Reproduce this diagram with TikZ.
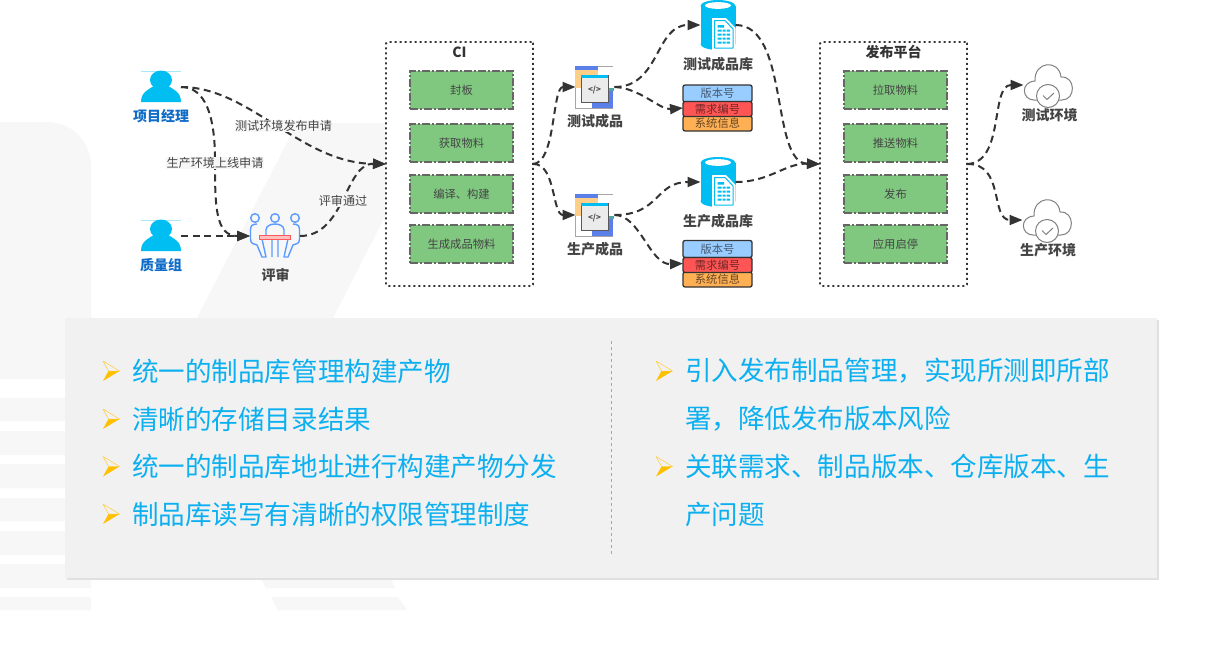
\documentclass[tikz,border=0pt]{standalone}
\usepackage{fontspec}
\setmainfont{Noto Sans CJK SC}
\usetikzlibrary{arrows.meta}
\definecolor{wash}{HTML}{F7F7F7}
\definecolor{panelgray}{HTML}{F1F1F1}
\definecolor{skyblue}{HTML}{00BEF2}
\definecolor{listblue}{HTML}{0CB0F0}
\definecolor{roleblue}{HTML}{0F6CC8}
\definecolor{inkdark}{HTML}{333333}
\definecolor{inktext}{HTML}{444444}
\definecolor{stepgreen}{HTML}{80C880}
\definecolor{seatblue}{HTML}{5B9BFF}
\definecolor{windowblue}{HTML}{5B7FE8}
\definecolor{paleorange}{HTML}{FFCF87}
\definecolor{bulletgold}{HTML}{FFC000}
\definecolor{rowblue}{HTML}{99CCFF}
\definecolor{rowred}{HTML}{FF5555}
\definecolor{roworange}{HTML}{FFB055}
\tikzset{
  iconbox/.style 2 args={minimum width=#1pt,minimum height=#2pt,inner sep=0pt,outer sep=0pt},
  groupbox/.style 2 args={iconbox={#1}{#2},draw=inkdark,fill=white,line width=1.9pt,dash pattern=on 2pt off 3pt,rounded corners=1.5pt},
  stepbox/.style={iconbox={103}{38},draw=black!60,fill=stepgreen,line width=1.1pt,dash pattern=on 8pt off 2pt on 2pt off 2pt,
    text=inktext,font=\fontsize{11.3}{12}\selectfont},
  grouptitle/.style={text=inkdark,inner sep=0pt,font=\fontsize{14}{15}\selectfont\bfseries},
  iconlabel/.style={text=inktext,inner sep=0pt,font=\fontsize{14}{15}\selectfont\bfseries},
  rolelabel/.style={text=roleblue,inner sep=0pt,font=\fontsize{14}{15}\selectfont\bfseries},
  edgelabel/.style={text=inktext,fill=black!3,inner sep=.5pt,font=\fontsize{12.1}{13}\selectfont},
  rowtext/.style={iconbox={69}{#1},draw=inkdark,line width=1.3pt,rounded corners=2pt,font=\fontsize{11.3}{12}\selectfont},
  listtext/.style={anchor=west,text=listblue,inner sep=0pt,font=\fontsize{26.55}{30}\selectfont},
  flow/.style={draw=inkdark,line width=2pt,dash pattern=on 7pt off 4.5pt},
  personicon/.pic={
    \draw[skyblue!35,line width=.6pt] (-20,-15.5)--(20,-15.5);
    \fill[skyblue] (0,-7) ellipse [x radius=11pt,y radius=9.5pt];
    \fill[skyblue] (-20,15) .. controls (-20,5) and (-12,2) .. (-7,-1) .. controls (-4,3) and (4,3) .. (7,-1) .. controls (12,2) and (20,5) .. (20,15) -- cycle;
  },
  seaticon/.pic={
    \draw[seatblue,line width=1.4pt] (-20,-18) circle (4.3pt) (0,-18) circle (4.3pt) (20,-18) circle (4.3pt);
    \draw[seatblue,line width=1.4pt,line join=round]
      (-18,-12) .. controls (-23,-12) and (-24.5,-10) .. (-24.5,-6) -- (-24.5,3) .. controls (-24.5,8) and (-21,8) .. (-18,9) -- (-13,21) -- (-9,21) -- (-13,3)
      (-9,-1) -- (-9,-6) .. controls (-9,-14) and (9,-14) .. (9,-6) -- (9,-1)
      (-3,3) -- (-3,21) (3,3) -- (3,21)
      (18,-12) .. controls (23,-12) and (24.5,-10) .. (24.5,-6) -- (24.5,3) .. controls (24.5,8) and (21,8) .. (18,9) -- (13,21) -- (9,21) -- (13,3);
    \draw[red!65,fill=red!25,line width=1pt] (-15.5,-.5) rectangle (15.5,3);
  },
  codeicon/.pic={
    \draw[black!35,line width=.6pt] (-20,-21) -- (18,-21) (-20,21) -- (18,21) (-20,-21) -- (-20,21);
    \fill[paleorange] (-20,-21) rectangle (3,1);
    \fill[windowblue] (-20,-21) rectangle (3,-17);
    \fill[windowblue] (-3,3) rectangle (18,21);
    \fill[teal!70] (13,1) rectangle (19,3.5);
    \draw[black!65,fill=black!8,line width=.9pt] (-14,-12) rectangle (13,15);
    \fill[skyblue] (-13.6,-11.6) rectangle (12.6,-9);
    \node[inner sep=0pt,text=black!70,font=\fontsize{8}{8}\selectfont\bfseries] (-code) at (-.5,3) {</>};
  },
  repoicon/.pic={
    \fill[skyblue] (-17.5,-19) rectangle (17.5,19);
    \fill[skyblue] (0,-19) ellipse [x radius=17.5pt,y radius=6pt];
    \fill[skyblue] (0,19) ellipse [x radius=17.5pt,y radius=6pt];
    \fill[white] (0,-19.5) ellipse [x radius=13pt,y radius=3.4pt];
    \fill[white] (-6,-7) -- (8,-7) -- (17.5,3) -- (17.5,25.5) -- (-6,25.5) -- cycle;
    \draw[skyblue,line width=1pt,line join=round] (-3.5,-4.5) -- (7,-4.5) -- (15,4) -- (15,23) -- (-3.5,23) -- cycle;
    \fill[skyblue] (-.5,0) rectangle (6,2.5) (-.5,4.5) rectangle (12,6.5) (-.5,8.5) rectangle (12,10.5) (-.5,12.5) rectangle (12,14.5) (-.5,16.5) rectangle (12,18.5);
    \fill[white] (3.6,4) rectangle (4.6,19) (7.6,4) rectangle (8.6,19);
  },
  cloudicon/.pic={
    \draw[black!50,fill=white,line width=1pt] (-14,15) .. controls (-26,15) and (-28,-3) .. (-13,-4) .. controls (-14,-24) and (11,-26) .. (13,-8) .. controls (28,-9) and (28,15) .. (14,15) -- cycle;
    \draw[black!50,fill=white,line width=1pt] (0,11) circle (11.5pt);
    \draw[black!50,line width=1pt] (-5,10.5) -- (-1,14.5) -- (6,8);
  },
  bulleticon/.pic={
    \fill[bulletgold] (-8.5,10) -- (8,0) -- (-3,0) -- cycle;
    \draw[bulletgold!80,line width=.5pt,line join=round] (-8.5,-10) -- (8,0) -- (-3,0) -- cycle;
  },
}
\begin{document}
\begin{tikzpicture}[x=1pt,y=-1pt,>={Triangle[length=13pt,width=10pt]}]
      \useasboundingbox (0,0) rectangle (1210,648);
      \fill[white] (0,0) rectangle (1210,648);
      % backdrop
      \fill[wash] (0,122) -- (46,122) .. controls (72,122) and (91,141) .. (91,167) -- (91,379) -- (0,379) -- cycle;
      \fill[wash] (0,398) rectangle (91,421) (0,431) rectangle (91,455) (0,464) rectangle (91,488);
      \fill[wash] (0,498) rectangle (91,521) (0,531) rectangle (91,555) (0,564) rectangle (91,588) (0,597) rectangle (91,610);
      \fill[wash] (297,123) -- (433,123) -- (333,318) -- (197,318) -- cycle;
      \fill[wash] (261,578) -- (390,578) -- (395,588) -- (266,588) -- cycle;
      \fill[wash] (271,597) -- (398,597) -- (407,610) -- (278,610) -- cycle;
      % lower panel
      \fill[black!12] (67,320) rectangle (1159,580);
      \fill[panelgray] (65,318) rectangle (1157,578);
      \draw[black!35,thin,dashed] (611,341) -- (611,555);
      \pic at (111.5,371) {bulleticon};
      \pic at (111.5,419) {bulleticon};
      \pic at (111.5,466.5) {bulleticon};
      \pic at (111.5,514) {bulleticon};
      \pic at (664.5,371) {bulleticon};
      \pic at (664.5,466.5) {bulleticon};
      \node[listtext] (left1)  at (132,371) {统一的制品库管理构建产物};
      \node[listtext] (left2)  at (132,419) {清晰的存储目录结果};
      \node[listtext] (left3)  at (132,466.5) {统一的制品库地址进行构建产物分发};
      \node[listtext] (left4)  at (132,514) {制品库读写有清晰的权限管理制度};
      \node[listtext] (right1) at (685,371) {引入发布制品管理，实现所测即所部};
      \node[listtext] (right2) at (685,419) {署，降低发布版本风险};
      \node[listtext] (right3) at (685,466.5) {关联需求、制品版本、仓库版本、生};
      \node[listtext] (right4) at (685,514) {产问题};
      % groups
      \node[groupbox={147}{244}] (ci)  at (459.5,164) {};
      \node[groupbox={147}{244}] (pub) at (893.5,164) {};
      \node[grouptitle] (cititle)  at (459.5,52) {CI};
      \node[grouptitle] (pubtitle) at (893.5,52) {发布平台};
      \node[stepbox] (ci1)  at (461.5, 90) {封板};
      \node[stepbox] (ci2)  at (461.5,143) {获取物料};
      \node[stepbox] (ci3)  at (461.5,194) {编译、构建};
      \node[stepbox] (ci4)  at (461.5,244) {生成成品物料};
      \node[stepbox] (pub1) at (895.5, 90) {拉取物料};
      \node[stepbox] (pub2) at (895.5,143) {推送物料};
      \node[stepbox] (pub3) at (895.5,194) {发布};
      \node[stepbox] (pub4) at (895.5,244) {应用启停};
      % icons
      \node[iconbox={40}{30}] (pm)      at (161, 87) {};
      \node[iconbox={40}{30}] (qa)      at (161,236) {};
      \node[iconbox={50}{46}] (review)  at (275,236) {};
      \node[iconbox={39}{42}] (prodt)   at (595, 87) {};
      \node[iconbox={39}{42}] (prodp)   at (595,215) {};
      \node[iconbox={35}{50}] (repot)   at (718, 25) {};
      \node[iconbox={35}{50}] (repop)   at (718,182) {};
      \node[iconbox={49}{40}] (envt)    at (1048,85) {};
      \node[iconbox={49}{40}] (envp)    at (1047,220) {};
      \node[iconbox={69}{46}] (stackt)  at (717.5,108) {};
      \node[iconbox={69}{46}] (stackp)  at (717.5,263.5) {};
      \pic at (pm) {personicon};
      \pic at (qa) {personicon};
      \pic at (review) {seaticon};
      \pic (codet) at (prodt) {codeicon};
      \pic (codep) at (prodp) {codeicon};
      \pic at (repot) {repoicon};
      \pic at (repop) {repoicon};
      \pic at (envt) {cloudicon};
      \pic at (envp) {cloudicon};
      \node[rowtext=17,fill=rowblue,text=black!55!rowblue]     (stackt1) at (717.5, 93.5) {版本号};
      \node[rowtext=15,fill=roworange,text=black!60!roworange] (stackt3) at (717.5,123.5) {系统信息};
      \node[rowtext=15,fill=rowred,text=black!55!rowred]       (stackt2) at (717.5,109) {需求编号};
      \node[rowtext=17,fill=rowblue,text=black!55!rowblue]     (stackp1) at (717.5,249) {版本号};
      \node[rowtext=15,fill=roworange,text=black!60!roworange] (stackp3) at (717.5,279.5) {系统信息};
      \node[rowtext=15,fill=rowred,text=black!55!rowred]       (stackp2) at (717.5,265) {需求编号};
      % labels under icons
      \node[rolelabel] (pmname)  at (161,116.5) {项目经理};
      \node[rolelabel] (qaname)  at (161,265.5) {质量组};
      \node[iconlabel] (revname) at (275.5,275.5) {评审};
      \node[iconlabel] (ptname)  at (595,121.5) {测试成品};
      \node[iconlabel] (ppname)  at (595,249.5) {生产成品};
      \node[iconlabel] (rtname)  at (718,64.5) {测试成品库};
      \node[iconlabel] (rpname)  at (718,221.5) {生产成品库};
      \node[iconlabel] (etname)  at (1049.5,115) {测试环境};
      \node[iconlabel] (epname)  at (1048,250) {生产环境};
      % connectors
      \draw[flow,->] (pm.east) .. controls (250,87) and (300,163) .. (ci.west);
      \draw[flow,->] (pm.east) .. controls (205,87) and (215,115) .. (215,160) .. controls (215,205) and (215,236) .. (review.west);
      \draw[flow,->] (qa.east) -- (review.west);
      \draw[flow,->] (review.east) .. controls (345,236) and (345,163) .. (ci.west);
      \draw[flow,->] (ci.east) .. controls (556,163) and (552,87) .. (prodt.west);
      \draw[flow,->] (ci.east) .. controls (556,163) and (552,215) .. (prodp.west);
      \draw[flow,->] (prodt.east) .. controls (660,87) and (655,25) .. (repot.west);
      \draw[flow,->] (prodt.east) .. controls (640,88) and (660,110) .. (stackt.west);
      \draw[flow,->] (prodp.east) .. controls (660,215) and (655,182) .. (repop.west);
      \draw[flow,->] (prodp.east) .. controls (640,215) and (650,265) .. (stackp.west);
      \draw[flow,->] (repot.east) .. controls (790,25) and (770,163) .. (pub.west);
      \draw[flow,->] (repop.east) .. controls (770,182) and (785,163) .. (pub.west);
      \draw[flow,->] (pub.east) .. controls (1005,163) and (990,85) .. (envt.west);
      \draw[flow,->] (pub.east) .. controls (1005,163) and (990,220) .. (envp.west);
      \node[edgelabel] (asktest) at (283.5,126) {测试环境发布申请};
      \node[edgelabel] (askprod) at (215,163) {生产环境上线申请};
      \node[edgelabel] (passed)  at (343,200.5) {评审通过};
    \end{tikzpicture}
\end{document}
